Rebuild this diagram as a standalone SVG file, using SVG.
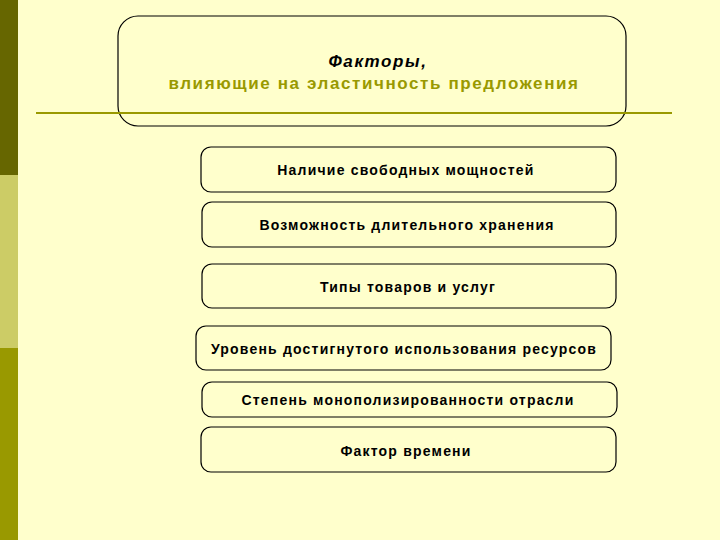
<svg xmlns="http://www.w3.org/2000/svg" width="720" height="540" viewBox="0 0 720 540">
<style>
.box{fill:#ffffcc;stroke:#000;stroke-width:1.2}
.t{font-family:"Liberation Sans",Arial,sans-serif;font-weight:bold;font-size:14px;letter-spacing:1.2px;fill:#000;text-anchor:middle}
.h{font-family:"Liberation Sans",Arial,sans-serif;font-weight:bold;font-size:17px;letter-spacing:1.6px;text-anchor:middle}
</style>
<rect x="0" y="0" width="720" height="540" fill="#ffffcc"/>
<rect x="0" y="0" width="18" height="175" fill="#666600"/>
<rect x="0" y="175" width="18" height="173" fill="#cccc66"/>
<rect x="0" y="348" width="18" height="192" fill="#999900"/>
<g id="title">
<rect class="box" x="118" y="16" width="508" height="110" rx="20"/>
<text class="h" x="378" y="67" font-style="italic" fill="#000">Факторы,</text>
<text class="h" x="374" y="89" fill="#999900">влияющие на эластичность предложения</text>
</g>
<line x1="36" y1="113" x2="672" y2="113" stroke="#999900" stroke-width="2"/>
<g id="n1"><rect class="box" x="201" y="147" width="415" height="45" rx="10"/><text class="t" x="406" y="175">Наличие свободных мощностей</text></g>
<g id="n2"><rect class="box" x="202" y="202" width="414" height="45" rx="10"/><text class="t" x="407" y="230">Возможность длительного хранения</text></g>
<g id="n3"><rect class="box" x="202" y="264" width="414" height="44" rx="10"/><text class="t" x="408" y="292">Типы товаров и услуг</text></g>
<g id="n4"><rect class="box" x="196" y="326" width="415" height="44" rx="10"/><text class="t" x="404" y="354">Уровень достигнутого использования ресурсов</text></g>
<g id="n5"><rect class="box" x="202" y="382" width="415" height="35" rx="10"/><text class="t" x="408" y="405">Степень монополизированности отрасли</text></g>
<g id="n6"><rect class="box" x="201" y="427" width="415" height="45" rx="10"/><text class="t" x="406" y="456">Фактор времени</text></g>
<g id="connectors"></g>
</svg>
